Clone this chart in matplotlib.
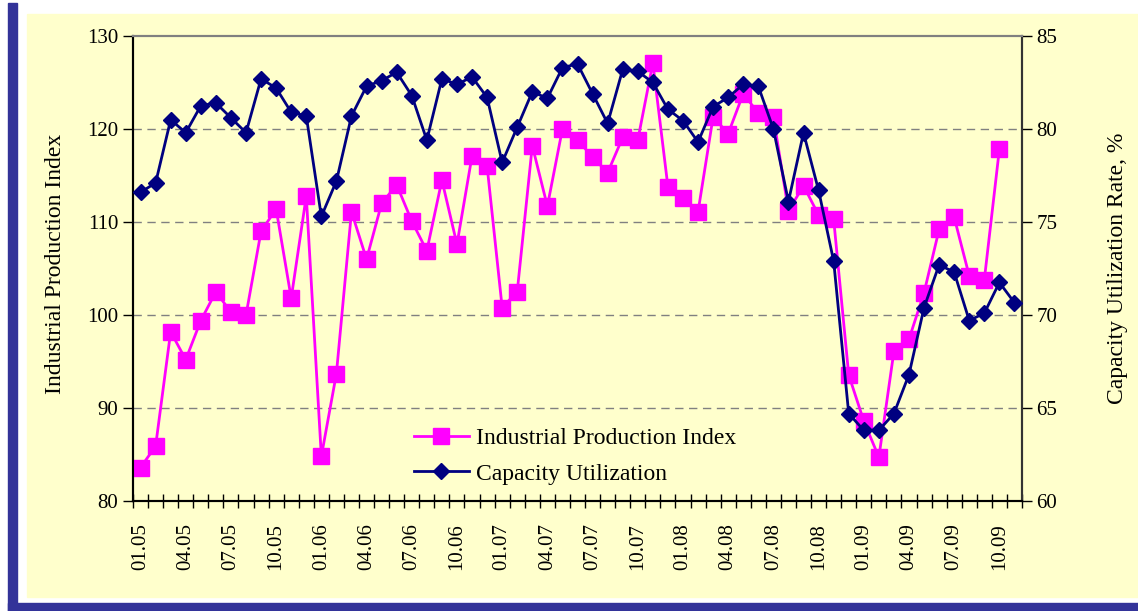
import numpy as np
import matplotlib.pyplot as plt
from matplotlib.patches import Rectangle

# -----------------------------
# Data (monthly, 01.05 - 11.09)
# -----------------------------
months = [f"{m:02d}.{y:02d}" for y in range(5, 10) for m in range(1, 13)][:59]

ipi = [83.6, 85.9, 98.2, 95.2, 99.4, 102.5, 100.3, 100.0, 109.0, 111.4,
       101.8, 112.8, 84.8, 93.7, 111.1, 106.0, 112.0, 114.0, 110.1, 106.9,
       114.5, 107.6, 117.1, 116.0, 100.8, 102.5, 118.2, 111.7, 120.0, 118.8,
       117.0, 115.3, 119.1, 118.8, 127.1, 113.8, 112.6, 111.1, 121.3, 119.5,
       123.8, 121.7, 121.3, 111.2, 113.9, 110.75, 110.3, 93.55, 88.6, 84.7,
       96.1, 97.4, 102.4, 109.2, 110.5, 104.2, 103.8, 117.85]

capacity = [76.6, 77.1, 80.5, 79.8, 81.25, 81.4, 80.6, 79.8, 82.7, 82.2,
            80.9, 80.7, 75.3, 77.2, 80.7, 82.3, 82.6, 83.05, 81.8, 79.4,
            82.7, 82.4, 82.8, 81.7, 78.2, 80.1, 82.0, 81.65, 83.3, 83.5,
            81.9, 80.3, 83.2, 83.1, 82.5, 81.06, 80.45, 79.3, 81.2, 81.7,
            82.4, 82.3, 80.0, 76.1, 79.8, 76.7, 72.9, 64.7, 63.8, 63.8,
            64.7, 66.8, 70.4, 72.7, 72.3, 69.7, 70.1, 71.75, 70.66]

# -----------------------------
# Figure and background frame
# -----------------------------
W, H = 1138, 611
fig = plt.figure(figsize=(W / 100, H / 100), dpi=100)
fig.patch.set_facecolor("white")

def px_rect(x0, y0, x1, y1, color):
    # rectangle given in pixel coords (top-left origin)
    fig.patches.append(Rectangle((x0 / W, 1 - y1 / H), (x1 - x0) / W, (y1 - y0) / H,
                                 transform=fig.transFigure, color=color, zorder=-10))

px_rect(27, 14, W, 597, "#FFFFCC")
px_rect(8, 3, 17, H, "#333399")
px_rect(8, 603, W, H, "#333399")

plt.rcParams["font.family"] = ["Liberation Serif", "DejaVu Serif"]
fs = 15      # tick labels
fs_lab = 17  # axis titles and legend

ax = fig.add_axes([133 / W, 1 - 501 / H, (1022 - 133) / W, (501 - 36) / H])
ax.set_facecolor("#FFFFCC")
ax2 = ax.twinx()

x = np.arange(len(months))

l1, = ax.plot(x[:len(ipi)], ipi, color="#FF00FF", lw=2, marker="s", ms=11,
              label="Industrial Production Index", zorder=3)
l2, = ax2.plot(x, capacity, color="#000080", lw=2, marker="D", ms=8.5,
               label="Capacity Utilization", zorder=3)

ax.set_xlim(-0.5, len(months) - 0.5)
ax.set_ylim(80, 130)
ax2.set_ylim(60, 85)
ax.set_yticks(range(80, 131, 10))
ax2.set_yticks(range(60, 86, 5))

for v in range(90, 130, 10):
    ax.axhline(v, color="#808080", lw=1, ls=(0, (6, 4)), zorder=1)

# x ticks: crossing ticks at category boundaries, labels every quarter
ax.set_xticks(np.arange(-0.5, len(months), 1), minor=True)
ax.set_xticks(x[::3])
ax.set_xticklabels(months[::3], rotation=90, fontsize=fs)
ax.tick_params(axis="x", which="major", length=0, pad=16)
ax.tick_params(axis="x", which="minor", direction="inout", length=10, width=1)
ax.tick_params(axis="y", labelsize=fs, length=7, width=1)
ax2.tick_params(axis="y", labelsize=fs, length=7, width=1)

for a in (ax, ax2):
    a.spines["top"].set_color("#808080")
    for s in ("top", "left", "bottom", "right"):
        a.spines[s].set_linewidth(1.5)
    a.spines["right"].set_color("#333333")

ax.set_ylabel("Industrial Production Index", fontsize=fs_lab)
ax2.set_ylabel("Capacity Utilization Rate, %", fontsize=fs_lab)
ax.yaxis.set_label_coords(66 / W, 1 - 264 / H, transform=fig.transFigure)
ax2.yaxis.set_label_coords(1107 / W, 1 - 268 / H, transform=fig.transFigure)

leg = ax2.legend(handles=[l1, l2], loc="center left", frameon=False, fontsize=fs_lab,
                 bbox_to_anchor=(393 / W, 1 - 456 / H), bbox_transform=fig.transFigure,
                 handlelength=2.3, handletextpad=0.3, labelspacing=0.6)

plt.savefig("out.png", dpi=100, facecolor=fig.get_facecolor())
